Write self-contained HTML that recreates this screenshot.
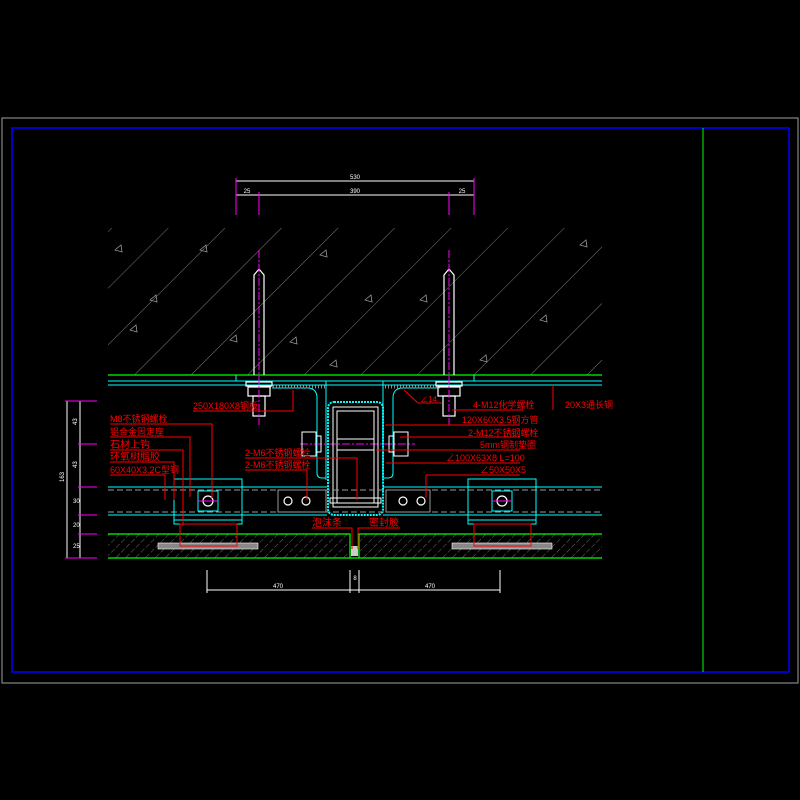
<!DOCTYPE html>
<html><head><meta charset="utf-8"><style>html,body{margin:0;padding:0;background:#000;}svg{display:block}</style></head>
<body>
<svg width="800" height="800" viewBox="0 0 800 800" xmlns="http://www.w3.org/2000/svg" font-family="Liberation Sans, Noto Sans CJK SC, sans-serif">
<defs>
<pattern id="hc" patternUnits="userSpaceOnUse" width="40" height="40" patternTransform="rotate(45)">
<line x1="0" y1="0" x2="0" y2="40" stroke="#9a9a9a" stroke-width="0.8"/>
</pattern>
<pattern id="hs" patternUnits="userSpaceOnUse" width="7" height="7" patternTransform="rotate(45)">
<line x1="0" y1="0" x2="0" y2="7" stroke="#9a9a9a" stroke-width="0.7" stroke-dasharray="4 2"/>
</pattern>
</defs>
<rect width="800" height="800" fill="#000"/>
<rect x="2" y="118" width="796" height="565" fill="none" stroke="#a0a0a0" stroke-width="1"/>
<rect x="12" y="128" width="777" height="544" fill="none" stroke="#0000ff" stroke-width="1.5"/>
<line x1="703" y1="128" x2="703" y2="672" stroke="#00ff00" stroke-width="1"/>

<!-- top dims -->
<g stroke="#fff" stroke-width="1">
<line x1="236" y1="181" x2="474" y2="181"/>
<line x1="236" y1="195" x2="474" y2="195"/>
</g>
<g stroke="#ff00ff" stroke-width="1">
<line x1="236" y1="178" x2="236" y2="215"/><line x1="474" y1="178" x2="474" y2="215"/>
<line x1="259" y1="192" x2="259" y2="215"/><line x1="449" y1="192" x2="449" y2="215"/>
</g>
<g fill="#fff" font-size="6" text-anchor="middle">
<text x="355" y="179">530</text><text x="355" y="193">390</text><text x="247" y="193">25</text><text x="462" y="193">25</text>
</g>

<!-- concrete -->
<rect x="108" y="228" width="494" height="147" fill="url(#hc)"/>
<g fill="none" stroke="#9a9a9a" stroke-width="0.8">
<path d="M130 330 l6 -5 l1 7z"/><path d="M200 250 l6 -5 l1 7z"/><path d="M320 255 l6 -5 l1 7z"/><path d="M420 300 l6 -5 l1 7z"/><path d="M540 320 l6 -5 l1 7z"/><path d="M365 300 l6 -5 l1 7z"/><path d="M290 342 l6 -5 l1 7z"/><path d="M580 245 l6 -5 l1 7z"/><path d="M150 300 l6 -5 l1 7z"/><path d="M230 340 l6 -5 l1 7z"/><path d="M480 360 l6 -5 l1 7z"/><path d="M115 250 l6 -5 l1 7z"/><path d="M330 365 l6 -5 l1 7z"/></g>
<line x1="108" y1="375" x2="602" y2="375" stroke="#00ff00" stroke-width="1.2"/>
<!-- top plate -->
<g stroke="#00ffff" stroke-width="1" fill="none">
<line x1="108" y1="381" x2="602" y2="381"/><line x1="108" y1="385" x2="602" y2="385"/>
<line x1="236" y1="375" x2="236" y2="381"/><line x1="474" y1="375" x2="474" y2="381"/>
<line x1="326" y1="381" x2="326" y2="480"/><line x1="383" y1="381" x2="383" y2="480"/>
<path d="M272 388 h35 q10 0 10 10 v75 q0 5 5 5 h4"/>
<path d="M438 388 h-35 q-10 0 -10 10 v75 q0 5 -5 5 h-4"/>
</g>
<line x1="270" y1="387" x2="325" y2="387" stroke="#888" stroke-width="3" stroke-dasharray="1 2"/>
<line x1="385" y1="387" x2="440" y2="387" stroke="#888" stroke-width="3" stroke-dasharray="1 2"/>
<!-- bolts -->
<g stroke="#fff" stroke-width="1.2" fill="none">
<path d="M254 375 v-100 l5 -6 l5 6 v100"/>
<path d="M444 375 v-100 l5 -6 l5 6 v100"/>
<rect x="246" y="382" width="26" height="4"/><rect x="248" y="387" width="22" height="9"/><rect x="253" y="396" width="12" height="20"/>
<rect x="436" y="382" width="26" height="4"/><rect x="438" y="387" width="22" height="9"/><rect x="443" y="396" width="12" height="20"/>
</g>
<g stroke="#ff00ff" stroke-width="1" stroke-dasharray="8 2 2 2">
<line x1="259" y1="250" x2="259" y2="425"/><line x1="449" y1="250" x2="449" y2="425"/>
<line x1="300" y1="444" x2="415" y2="444"/>
</g>

<!-- central box -->
<rect x="328" y="402" width="55" height="113" rx="6" fill="none" stroke="#00ffff" stroke-width="2" stroke-dasharray="2 1"/>
<g stroke="#fff" stroke-width="1" fill="none">
<rect x="333" y="407" width="45" height="100"/><rect x="337" y="411" width="37" height="92"/>
<rect x="302" y="432" width="14" height="24"/><rect x="316" y="436" width="5" height="16"/>
<rect x="394" y="432" width="14" height="24"/><rect x="389" y="436" width="5" height="16"/>
<line x1="337" y1="439" x2="374" y2="439"/><line x1="337" y1="450" x2="374" y2="450"/>
<rect x="330" y="498" width="51" height="5"/>
</g>

<!-- C channel -->
<g stroke="#00ffff" stroke-width="1">
<line x1="108" y1="487" x2="327" y2="487"/><line x1="383" y1="487" x2="602" y2="487"/>
<line x1="108" y1="515" x2="327" y2="515"/><line x1="383" y1="515" x2="602" y2="515"/>
</g>
<g stroke="#999" stroke-width="1" stroke-dasharray="6 3">
<line x1="108" y1="490" x2="602" y2="490"/><line x1="108" y1="512" x2="602" y2="512"/>
</g>
<g stroke="#999" fill="none"><rect x="278" y="490" width="48" height="22"/><rect x="386" y="490" width="44" height="22"/></g>
<g stroke="#fff" fill="none" stroke-width="1.2">
<circle cx="288" cy="501" r="4"/><circle cx="306" cy="501" r="4"/><circle cx="403" cy="501" r="4"/><circle cx="421" cy="501" r="4"/>
<circle cx="208" cy="501" r="5"/><circle cx="502" cy="501" r="5"/>
</g>
<!-- plates -->
<g stroke="#00ffff" stroke-width="1" fill="none">
<rect x="174" y="479" width="68" height="45"/><rect x="198" y="491" width="20" height="20"/>
<line x1="174" y1="520" x2="242" y2="520"/>
<rect x="468" y="479" width="68" height="45"/><rect x="492" y="491" width="20" height="20"/>
<line x1="468" y1="520" x2="536" y2="520"/>
</g>
<g stroke="#ff00ff" stroke-width="1"><line x1="198" y1="501" x2="218" y2="501"/><line x1="492" y1="501" x2="512" y2="501"/></g>
<!-- bottom stone -->
<rect x="108" y="534" width="242" height="24" fill="url(#hs)"/>
<rect x="360" y="534" width="242" height="24" fill="url(#hs)"/>
<g stroke="#00ff00" stroke-width="1.2" fill="none">
<path d="M108 534 H350 V558"/><path d="M602 534 H359 V558"/><line x1="108" y1="558" x2="602" y2="558"/>
</g>
<rect x="158" y="543" width="100" height="6" fill="#888" stroke="#fff" stroke-width="0.6"/>
<rect x="452" y="543" width="100" height="6" fill="#888" stroke="#fff" stroke-width="0.6"/>
<g stroke="#ff0000" fill="none" stroke-width="1">
<rect x="180" y="524" width="57" height="22"/><rect x="474" y="524" width="57" height="22"/>
</g>
<rect x="351" y="546" width="7" height="10" fill="#ccc"/>

<!-- bottom dim -->
<line x1="207" y1="590" x2="500" y2="590" stroke="#fff"/>
<g stroke="#fff"><line x1="207" y1="570" x2="207" y2="593"/><line x1="500" y1="570" x2="500" y2="593"/><line x1="350" y1="570" x2="350" y2="593"/><line x1="359" y1="570" x2="359" y2="593"/></g>
<g fill="#fff" font-size="6" text-anchor="middle"><text x="278" y="588">470</text><text x="430" y="588">470</text><text x="355" y="580">8</text></g>

<!-- left dims -->
<g stroke="#fff"><line x1="67" y1="401" x2="67" y2="558"/><line x1="80" y1="401" x2="80" y2="558"/></g>
<g stroke="#ff00ff"><line x1="65" y1="401" x2="97" y2="401"/><line x1="78" y1="444" x2="97" y2="444"/><line x1="78" y1="487" x2="97" y2="487"/><line x1="78" y1="515" x2="97" y2="515"/><line x1="78" y1="534" x2="97" y2="534"/><line x1="65" y1="558" x2="97" y2="558"/></g>
<g fill="#fff" font-size="6"><text x="73" y="425" transform="rotate(-90 75 423)">43</text><text x="73" y="468" transform="rotate(-90 75 466)">43</text><text x="73" y="503">30</text><text x="73" y="527">20</text><text x="73" y="548">25</text><text x="60" y="482" transform="rotate(-90 62 480)">163</text></g>

<!-- leaders -->
<g stroke="#ff0000" stroke-width="1" fill="none">
<polyline points="193,411 293,411 293,390"/>
<polyline points="110,424 212,424 212,498"/>
<polyline points="110,437 190,437 190,497"/>
<polyline points="110,450 183,450 183,526"/>
<polyline points="110,462 174,462 174,500"/>
<polyline points="110,475 165,475 165,500"/>
<polyline points="245,458 357,458 357,500"/>
<polyline points="245,470 307,470 307,500"/>
<polyline points="312,528 352,528 352,549"/>
<polyline points="400,528 358,528 358,549"/>
<polyline points="523,410 452,410"/>
<polyline points="553,410 553,385"/>
<line x1="404" y1="390" x2="418" y2="403"/><line x1="418" y1="403" x2="442" y2="403"/>
<line x1="385" y1="425" x2="520" y2="425"/>
<line x1="400" y1="437" x2="520" y2="437"/>
<line x1="376" y1="450" x2="520" y2="450"/>
<line x1="386" y1="463" x2="520" y2="463"/>
<polyline points="426,475 520,475"/><polyline points="426,475 426,498"/>
</g>

<!-- labels -->
<g fill="#ff0000" font-size="9">
<text x="193" y="409">250X180X8钢板</text>
<text x="110" y="422">M8不锈钢螺栓</text>
<text x="110" y="435">铝合金固定座</text>
<text x="110" y="448" font-size="10">石材上钩</text>
<text x="110" y="460" font-size="10">环氧树脂胶</text>
<text x="110" y="473">60X40X3.2C型钢</text>
<text x="245" y="456">2-M6不锈钢螺栓</text>
<text x="245" y="468">2-M6不锈钢螺栓</text>
<text x="312" y="526" font-size="10">泡沫条</text>
<text x="369" y="526" font-size="10">密封胶</text>
<text x="473" y="408">4-M12化学螺栓</text>
<text x="565" y="408">20X3通长钢</text>
<text x="462" y="423">120X60X3.5钢方管</text>
<text x="468" y="436">2-M12不锈钢螺栓</text>
<text x="480" y="448">5mm钢制垫圈</text>
<text x="446" y="461">∠100X63X8  L=100</text>
<text x="480" y="473">∠50X50X5</text>
<text x="420" y="402" font-size="8">∠14</text>
</g>
</svg>
</body></html>
